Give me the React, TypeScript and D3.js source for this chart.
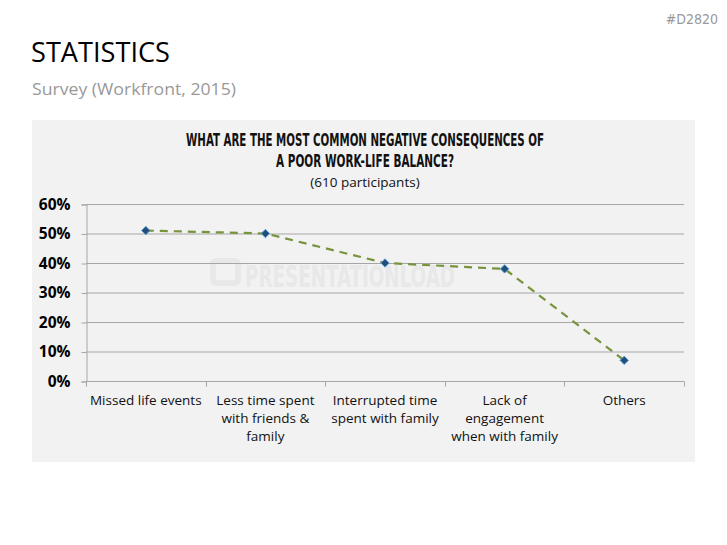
import React, { useRef, useEffect } from 'react';
import * as d3 from 'd3';

const categories = [
  'Missed life events',
  'Less time spent|with friends &|family',
  'Interrupted time|spent with family',
  'Lack of|engagement|when with family',
  'Others',
];
const values = [0.51, 0.5, 0.4, 0.38, 0.07];
const yTicks = [0, 0.1, 0.2, 0.3, 0.4, 0.5, 0.6];

const width = 727;
const height = 545;

const App = () => {
  const ref = useRef<SVGSVGElement | null>(null);

  useEffect(() => {
    if (!ref.current) return;
    const svg = d3.select(ref.current);
    svg.selectAll('*').remove();

    const plot = { left: 86, right: 684, top: 204, bottom: 381 };
    const font = "'Open Sans', 'DejaVu Sans', sans-serif";
    const narrow = "'Liberation Sans Narrow', 'DejaVu Sans Condensed', sans-serif";

    // header
    svg
      .append('text')
      .attr('x', 718)
      .attr('y', 24)
      .attr('text-anchor', 'end')
      .attr('fill', '#999')
      .attr('font-family', narrow)
      .attr('font-size', 14)
      .text('#D2820');

    svg
      .append('text')
      .attr('x', 31)
      .attr('y', 62)
      .attr('fill', '#000')
      .attr('font-family', font)
      .attr('font-size', 28)
      .attr('textLength', 139)
      .attr('lengthAdjust', 'spacingAndGlyphs')
      .text('STATISTICS');

    svg
      .append('text')
      .attr('x', 32)
      .attr('y', 95)
      .attr('fill', '#999')
      .attr('font-family', font)
      .attr('font-size', 17)
      .attr('textLength', 204)
      .attr('lengthAdjust', 'spacingAndGlyphs')
      .text('Survey (Workfront, 2015)');

    // chart panel
    svg
      .append('rect')
      .attr('x', 32)
      .attr('y', 120)
      .attr('width', 663)
      .attr('height', 342)
      .attr('fill', '#f2f2f2');

    // watermark
    svg
      .append('text')
      .attr('x', 245)
      .attr('y', 287)
      .attr('fill', '#e8e8e8')
      .attr('font-family', narrow)
      .attr('font-weight', 'bold')
      .attr('font-size', 30)
      .attr('textLength', 210)
      .attr('lengthAdjust', 'spacingAndGlyphs')
      .text('PRESENTATIONLOAD');
    svg
      .append('rect')
      .attr('x', 213)
      .attr('y', 261)
      .attr('width', 25)
      .attr('height', 22)
      .attr('rx', 3)
      .attr('fill', 'none')
      .attr('stroke', '#e8e8e8')
      .attr('stroke-width', 6);

    // chart title
    const t1 = svg
      .append('text')
      .attr('text-anchor', 'middle')
      .attr('font-family', narrow)
      .attr('font-weight', 'bold')
      .attr('font-size', 17)
      .attr('fill', '#111');
    t1.append('tspan')
      .attr('x', 365)
      .attr('y', 146)
      .attr('textLength', 358)
      .attr('lengthAdjust', 'spacingAndGlyphs')
      .text('WHAT ARE THE MOST COMMON NEGATIVE CONSEQUENCES OF');
    t1.append('tspan')
      .attr('x', 365)
      .attr('y', 167)
      .attr('textLength', 178)
      .attr('lengthAdjust', 'spacingAndGlyphs')
      .text('A POOR WORK-LIFE BALANCE?');

    svg
      .append('text')
      .attr('x', 365)
      .attr('y', 187)
      .attr('text-anchor', 'middle')
      .attr('font-family', font)
      .attr('font-size', 13.5)
      .attr('fill', '#111')
      .text('(610 participants)');

    const x = d3
      .scaleBand<string>()
      .domain(categories)
      .range([plot.left, plot.right]);
    const y = d3.scaleLinear().domain([0, 0.6]).range([plot.bottom, plot.top]);

    // gridlines
    svg
      .append('g')
      .selectAll('line')
      .data(yTicks.slice(1))
      .join('line')
      .attr('x1', plot.left)
      .attr('x2', plot.right)
      .attr('y1', (d) => y(d) + 0.5)
      .attr('y2', (d) => y(d) + 0.5)
      .attr('stroke', '#a6a6a6')
      .attr('stroke-width', 1);

    // y axis
    const yAxis = svg
      .append('g')
      .attr('transform', `translate(${plot.left + 0.5},0.5)`)
      .call(
        d3
          .axisLeft(y)
          .tickValues(yTicks)
          .tickSize(5)
          .tickPadding(11)
          .tickFormat(d3.format('.0%'))
      );
    yAxis.selectAll('.domain').attr('stroke', '#a6a6a6');
    yAxis.selectAll('line').attr('stroke', '#a6a6a6');
    yAxis
      .selectAll('text')
      .attr('font-family', font)
      .attr('font-weight', 'bold')
      .attr('font-size', 15.5)
      .attr('fill', '#000');

    // x axis
    const xg = svg.append('g').attr('transform', `translate(0,${plot.bottom + 0.5})`);
    xg.append('line')
      .attr('x1', plot.left)
      .attr('x2', plot.right)
      .attr('stroke', '#a6a6a6');
    const edges = [...categories.map((c) => x(c) as number), plot.right];
    xg.selectAll('.tk')
      .data(edges)
      .join('line')
      .attr('class', 'tk')
      .attr('x1', (d) => Math.round(d) + 0.5)
      .attr('x2', (d) => Math.round(d) + 0.5)
      .attr('y1', 0)
      .attr('y2', 5)
      .attr('stroke', '#a6a6a6');
    xg.selectAll('.lbl')
      .data(categories)
      .join('text')
      .attr('class', 'lbl')
      .attr('text-anchor', 'middle')
      .attr('font-family', font)
      .attr('font-size', 13.5)
      .attr('fill', '#111')
      .each(function (d) {
        const t = d3.select(this);
        d.split('|').forEach((line, i) => {
          t.append('tspan')
            .attr('x', (x(d) as number) + x.bandwidth() / 2)
            .attr('y', 23 + i * 18)
            .text(line);
        });
      });

    // line
    const pts = categories.map((c, i) => [
      (x(c) as number) + x.bandwidth() / 2,
      y(values[i]),
    ]) as [number, number][];
    svg
      .append('path')
      .attr('d', d3.line()(pts))
      .attr('fill', 'none')
      .attr('stroke', '#77933c')
      .attr('stroke-width', 2.2)
      .attr('stroke-dasharray', '8,6');

    svg
      .append('g')
      .selectAll('path')
      .data(pts)
      .join('path')
      .attr('transform', (d) => `translate(${d[0]},${d[1]})`)
      .attr('d', d3.symbol(d3.symbolDiamond2, 45)())
      .attr('fill', '#1f4e79')
      .attr('stroke', '#5b9bd5')
      .attr('stroke-width', 1);
  }, []);

  return (
    <svg
      ref={ref}
      width={width}
      height={height}
      viewBox={`0 0 ${width} ${height}`}
      style={{ position: 'absolute', left: 0, top: 0, background: '#fff' }}
    />
  );
};

export default App;
